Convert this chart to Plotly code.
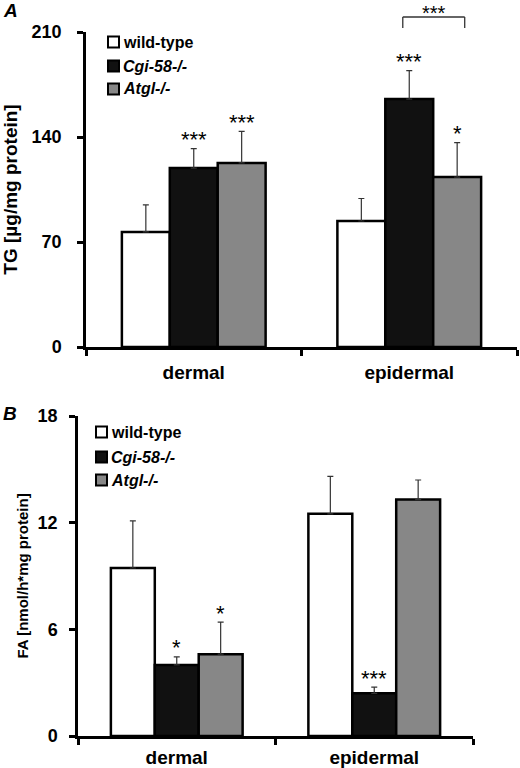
import plotly.graph_objects as go

# ---------------- data ----------------
categories = ["dermal", "epidermal"]
series_names = ["wild-type", "Cgi-58-/-", "Atgl-/-"]
series_italic = [False, True, True]
series_colors = ["#ffffff", "#111111", "#878787"]

# Panel A: TG [µg/mg protein]
tg_wt = [76.7, 84.0]
tg_cgi = [119.3, 165.3]
tg_atgl = [122.7, 113.3]
tg_wt_err = [18.0, 15.0]
tg_cgi_err = [13.0, 19.0]
tg_atgl_err = [21.0, 23.0]
tg_sig_wt = ["", ""]
tg_sig_cgi = ["***", "***"]
tg_sig_atgl = ["***", "*"]
tg_ticks = [0, 70, 140, 210]

# Panel B: FA [nmol/h*mg protein]
fa_wt = [9.45, 12.5]
fa_cgi = [4.0, 2.4]
fa_atgl = [4.6, 13.3]
fa_wt_err = [2.65, 2.1]
fa_cgi_err = [0.45, 0.35]
fa_atgl_err = [1.8, 1.1]
fa_sig_wt = ["", ""]
fa_sig_cgi = ["*", "***"]
fa_sig_atgl = ["*", ""]
fa_ticks = [0, 6, 12, 18]

FONT = "Liberation Sans, Arial, sans-serif"
BARGAP = 0.333

fig = go.Figure()
annotations = []
shapes = []

panels = [
    dict(xa="x", ya="y", vals=[tg_wt, tg_cgi, tg_atgl],
         errs=[tg_wt_err, tg_cgi_err, tg_atgl_err],
         sigs=[tg_sig_wt, tg_sig_cgi, tg_sig_atgl]),
    dict(xa="x2", ya="y2", vals=[fa_wt, fa_cgi, fa_atgl],
         errs=[fa_wt_err, fa_cgi_err, fa_atgl_err],
         sigs=[fa_sig_wt, fa_sig_cgi, fa_sig_atgl]),
]

bw = (1 - BARGAP) / 3
for p in panels:
    for i, name in enumerate(series_names):
        fig.add_trace(go.Bar(
            x=categories, y=p["vals"][i], name=name, xaxis=p["xa"], yaxis=p["ya"],
            marker=dict(color=series_colors[i], line=dict(color="#000000", width=2.5)),
            error_y=dict(type="data", array=p["errs"][i], arrayminus=[0] * len(categories),
                         symmetric=False, color="#333333", thickness=1.2, width=3),
            showlegend=False,
        ))
        for j, cat in enumerate(categories):
            s = p["sigs"][i][j]
            if s:
                annotations.append(dict(
                    x=j + (i - 1) * bw, y=p["vals"][i][j] + p["errs"][i][j],
                    xref=p["xa"], yref=p["ya"], text=s, showarrow=False,
                    yanchor="middle", yshift=9,
                    font=dict(family=FONT, size=22, color="#000000")))

# bracket between Cgi-58-/- and Atgl-/- epidermal (panel A)
bx0 = 1 + 0 * bw - 0.03
bx1 = 1 + 1 * bw + 0.035
line_style = dict(color="#333333", width=1.3)
shapes += [
    dict(type="line", xref="x", yref="y domain", x0=bx0, x1=bx1, y0=1.0476, y1=1.0476, line=line_style),
    dict(type="line", xref="x", yref="y domain", x0=bx0, x1=bx0, y0=1.0476, y1=1.0127, line=line_style),
    dict(type="line", xref="x", yref="y domain", x0=bx1, x1=bx1, y0=1.0476, y1=1.0127, line=line_style),
]
annotations.append(dict(x=(bx0 + bx1) / 2, y=1.0, xref="x", yref="paper", text="***",
                        showarrow=False, yanchor="top", yshift=0,
                        font=dict(family=FONT, size=20, color="#000000")))

# manual legends (paper coordinates, pixel based)
W, H = 520, 768
def add_legend(x_sq, ys, size, fsize):
    for i, name in enumerate(series_names):
        yc = ys[i]
        shapes.append(dict(type="rect", xref="paper", yref="paper",
                           x0=x_sq / W, x1=(x_sq + size) / W,
                           y0=1 - (yc + size / 2) / H, y1=1 - (yc - size / 2) / H,
                           fillcolor=series_colors[i], line=dict(color="#000000", width=2)))
        txt = f"<b><i>{name}</i></b>" if series_italic[i] else f"<b>{name}</b>"
        annotations.append(dict(x=(x_sq + size + 2) / W, y=1 - yc / H, xref="paper", yref="paper",
                                text=txt, showarrow=False, xanchor="left", yanchor="middle",
                                font=dict(family=FONT, size=fsize, color="#000000")))

add_legend(108, [42, 66, 89], 11, 16)
add_legend(96, [432, 457, 480], 11, 16)

# panel letters
annotations.append(dict(x=1 / W, y=1 - 10 / H, xref="paper", yref="paper", text="<b><i>A</i></b>",
                        showarrow=False, xanchor="left", yanchor="middle",
                        font=dict(family=FONT, size=19, color="#000000")))
annotations.append(dict(x=1 / W, y=1 - 413 / H, xref="paper", yref="paper", text="<b><i>B</i></b>",
                        showarrow=False, xanchor="left", yanchor="middle",
                        font=dict(family=FONT, size=19, color="#000000")))

tickfont = dict(family=FONT, size=18, color="#000000")
common_x = dict(type="category", tickson="boundaries", ticks="outside", ticklen=6, tickwidth=2.5,
                tickcolor="#000000", showline=True, linecolor="#000000", linewidth=2.5,
                showgrid=False, zeroline=False, range=[-0.5, 1.5], fixedrange=True,
                automargin=False,
                tickfont=dict(family=FONT, size=19, color="#000000"),
                tickvals=categories, ticktext=[f"<b>{c}</b>" for c in categories])
common_y = dict(ticks="outside", ticklen=6, tickwidth=2.5, tickcolor="#000000",
                showline=True, linecolor="#000000", linewidth=2.5, showgrid=False,
                zeroline=False, tickfont=tickfont, automargin=False, fixedrange=True)

fig.update_layout(
    width=W, height=H,
    margin=dict(l=0, r=0, t=0, b=0, pad=0, autoexpand=False),
    paper_bgcolor="#ffffff", plot_bgcolor="#ffffff",
    barmode="group", bargap=BARGAP, bargroupgap=0,
    font=dict(family=FONT, color="#000000"),
    xaxis=dict(domain=[86 / W, 517 / W], anchor="y", ticklabelstandoff=6, **common_x),
    yaxis=dict(domain=[1 - 347 / H, 1 - 32 / H], anchor="x", range=[0, 210],
               tickvals=tg_ticks, ticktext=[f"<b>{t}</b>" for t in tg_ticks],
               ticklabelstandoff=12,
               title=dict(text="<b>TG [µg/mg protein]</b>", standoff=10,
                          font=dict(family=FONT, size=19, color="#000000")),
               **common_y),
    xaxis2=dict(domain=[78 / W, 473 / W], anchor="y2", ticklabelstandoff=2, **common_x),
    yaxis2=dict(domain=[1 - 736 / H, 1 - 416 / H], anchor="x2", range=[0, 18],
                tickvals=fa_ticks, ticktext=[f"<b>{t}</b>" for t in fa_ticks],
                ticklabelstandoff=8,
                title=dict(text="<b>FA [nmol/h*mg protein]</b>", standoff=6,
                           font=dict(family=FONT, size=15, color="#000000")),
                **common_y),
    annotations=annotations,
    shapes=shapes,
)

fig.write_html("out.html", config={"displayModeBar": False},
               post_script="document.body.style.margin='0px';document.body.style.overflow='hidden';")
